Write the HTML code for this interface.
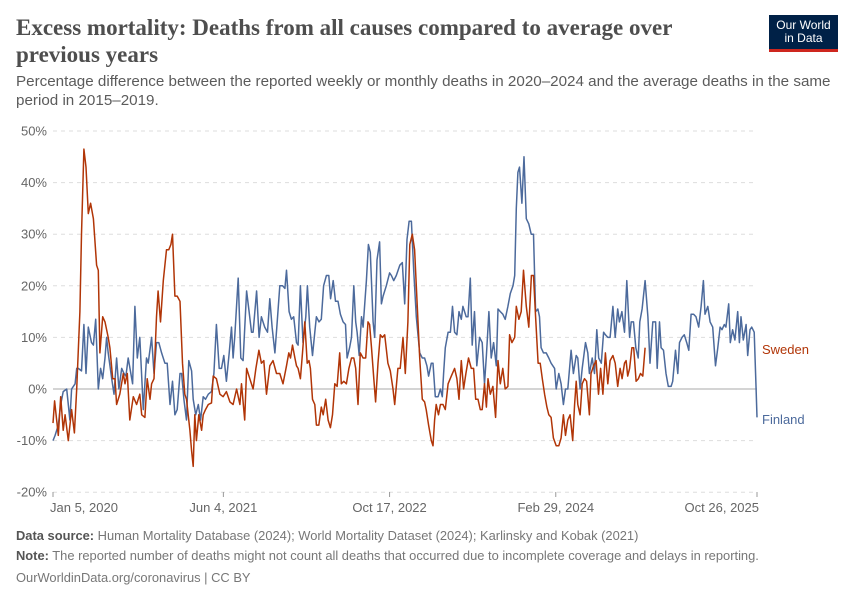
<!DOCTYPE html>
<html><head><meta charset="utf-8">
<style>
body{margin:0;background:#fff;font-family:"Liberation Sans",sans-serif;}
#wrap{position:relative;width:850px;height:600px;overflow:hidden;}
.title{position:absolute;left:16px;top:14px;width:720px;font-family:"Liberation Serif",serif;font-size:23px;line-height:27px;color:#4e4e4e;font-weight:bold;}
.sub{position:absolute;left:16px;top:72px;width:830px;font-size:15.2px;line-height:19px;color:#5b5b5b;}
.logo{position:absolute;left:769px;top:15px;width:69px;height:37px;background:#002147;color:#fff;font-size:12px;line-height:13px;text-align:center;}
.logo div{padding-top:4px}
.logo span{position:absolute;left:0;bottom:0;width:69px;height:3px;background:#ce261e}
.foot{position:absolute;left:16px;font-size:12.9px;color:#777;}
.foot b{color:#555;font-weight:bold}
</style></head><body>
<div id="wrap">
<div class="title">Excess mortality: Deaths from all causes compared to average over previous years</div>
<div class="logo"><div>Our World<br>in Data</div><span></span></div>
<div class="sub">Percentage difference between the reported weekly or monthly deaths in 2020–2024 and the average deaths in the same period in 2015–2019.</div>
<svg id="chart" width="850" height="600" style="position:absolute;left:0;top:0"></svg>
<div class="foot" style="top:528px"><b>Data source:</b> Human Mortality Database (2024); World Mortality Dataset (2024); Karlinsky and Kobak (2021)</div>
<div class="foot" style="top:548px"><b>Note:</b> The reported number of deaths might not count all deaths that occurred due to incomplete coverage and delays in reporting.</div>
<div class="foot" style="top:570px">OurWorldinData.org/coronavirus | CC BY</div>
</div>
<script>
const yTicks=[-20,-10,0,10,20,30,40,50];
const xTickWeeks=[0,73.4,145,216.6,303.3];
const xTickLabels=["Jan 5, 2020","Jun 4, 2021","Oct 17, 2022","Feb 29, 2024","Oct 26, 2025"];
const sweden=[[0,-6.6],[0.7,-2.3],[2.3,-9],[3.3,-1.5],[4.4,-8],[5.2,-5],[6.6,-10],[8,-4],[9.2,-8.5],[10.2,0],[11.6,15],[12.3,30],[13.3,46.5],[14.2,43],[15.2,34],[16.2,36],[17.4,33],[18.8,24],[19.5,23],[20.2,7],[21.4,14],[22.4,13],[23.8,10],[24.5,8],[25.7,2],[26.7,2],[27.4,-3],[28.8,-1],[30.3,3],[31,1],[32,3],[33.1,-6],[34.6,-1.5],[36,-3],[37.4,-1],[38.2,-5],[39.6,-5.5],[40.6,2],[41.8,-2],[42.5,1],[43.5,2],[44.6,14],[45.3,19],[46.3,13],[47.5,21],[48.9,27],[49.9,27],[50.8,28],[51.5,30],[52.5,18],[53.5,18],[54.7,17],[55.8,5],[56.8,-1],[57.5,-2],[59,-8],[59.7,-12],[60.4,-15],[61.1,-5],[61.8,-10],[62.8,-5],[64,-8],[64.7,-5],[65.7,-4],[66.9,-3],[68.3,-2.7],[69,2.5],[70.4,2],[71.9,-1],[73.3,-1.5],[74.7,-0.5],[76.2,-2.5],[77.6,-3],[79.1,0],[80.5,-3],[81.2,1],[82.6,-6],[83.4,4],[84.8,2],[86.2,0],[87.4,4],[88.7,7.5],[89.8,5],[90.8,5.5],[92,-1],[93.4,4.5],[94.8,5.5],[96.3,3],[97.7,3],[99.1,1],[100.6,4.5],[101.6,7],[102.3,6],[103.2,8.5],[104.2,6],[104.9,4.5],[105.6,4],[106.6,2],[107.5,7],[108.5,13],[109.5,5],[110.3,5.5],[110.9,4],[111.8,-2],[112.8,-3],[113.5,-7],[114.5,-7],[115.6,-3.5],[116.4,-5],[117.5,-2],[118.5,-6],[119.5,-7.5],[120.4,-5],[121.4,1],[122.4,0.5],[123.5,7],[124.2,1],[125.3,1.5],[126.4,1],[127.5,4],[128.6,6],[129.6,6],[130.4,4],[131.4,-3],[132.4,7],[133.6,6],[134.7,6],[135.7,13],[136.4,12.5],[137.2,8],[138.2,2],[139,-2.5],[140,5],[141,10.5],[141.9,10],[142.9,10.5],[144.3,5],[145.3,3.5],[146.5,0],[147.2,-3],[148.6,4],[149.6,4],[150.8,10],[151.8,3],[152.9,13],[153.7,28],[154.8,30],[155.8,27],[156.5,20],[158,6],[159.1,-2],[160.1,-2.5],[160.8,-4],[161.8,-7],[163,-10],[163.7,-11],[164.4,-6],[165.1,-3],[166.1,-5],[166.9,-3],[168,-3],[169,-4],[170.2,1],[171.6,2.5],[173,4],[174,2],[174.9,-2],[175.9,5.5],[176.9,0],[177.9,3],[179,6],[180.2,4],[181.2,4],[182.1,-2],[183.1,-2],[184.1,-4],[184.9,-4],[185.9,1],[186.7,-3.5],[187.4,2],[188.4,-1],[189.5,0.5],[190.7,-5.5],[191.7,5.5],[192.7,1],[193.8,4],[194.8,0],[196,0.5],[196.7,10.5],[197.7,9],[198.9,10],[199.6,16],[200.7,13.5],[201.7,15],[202.7,23],[203.9,16],[205,12],[206.1,22],[207,22],[207.9,14],[209,5],[209.9,5],[210.8,2],[211.8,-1],[212.8,-3.5],[213.6,-5],[214.6,-5.5],[215.6,-9.5],[216.8,-11],[217.9,-11],[218.9,-9.5],[219.9,-5],[220.8,-9],[221.8,-6],[222.8,-5],[223.9,-10],[224.7,-3],[225.4,1.5],[226.1,-3],[227.1,-5],[228,1],[229,2],[229.9,1.5],[231.1,-5],[231.8,3],[232.9,4.5],[234,5.5],[235,-1],[235.9,4],[236.9,-1],[238,7],[239,1],[240,5.5],[241.2,6.5],[242.2,5],[243.3,0.5],[244.3,4],[245.2,2],[246.2,5],[246.9,5.5],[247.6,2.5],[248.4,4],[249.4,8],[250.2,8],[251.2,1.5],[252.2,2],[253.1,3],[254.1,2.5],[255.1,8]];
const finland=[[0,-10],[0.9,-9],[2.3,-7],[3.3,-3],[4.4,-0.5],[5.9,0],[7.3,-6],[8,0],[9.5,1],[10.2,4],[10.9,4],[12.3,3.5],[13.3,12.5],[14.2,3],[15.2,12],[16.6,9],[17.4,8.5],[18.4,13.5],[19.5,0],[20.5,4],[21.4,2],[22.4,6],[23.1,10],[23.8,7],[25.3,2],[26.3,-1],[27.4,6],[28.4,0],[29.6,4],[30.6,3],[31.4,2.5],[32.4,6],[34.3,1],[35.3,16],[36.3,6],[37.4,10],[38.9,-4],[40.3,6],[41,5],[42.5,10],[43.5,3],[44.6,9],[45.6,9],[46.8,7],[48.2,5],[49.2,5],[50.4,-3],[51.5,1.5],[52.5,-5],[53.5,-4],[54.7,3],[55.4,3],[56.4,-2],[57.5,-6],[58.5,5.5],[59.7,3.5],[60.4,-2],[61.5,-5],[62.6,-3],[63.6,-6],[64.7,-1.5],[65.7,-2],[66.9,-1],[68.3,-0.5],[69.3,3],[70.4,12.5],[71.6,4],[72.6,4],[73.6,6.5],[74.7,1.5],[75.9,7],[76.9,12],[77.6,6],[78.3,10],[79.8,21.5],[80.9,6],[81.9,5.5],[83.4,19],[84.5,15],[85.5,11],[86.2,11],[87.7,19],[88.8,10],[89.8,14],[91.2,12],[92.4,11],[93.4,17.5],[94.4,12],[95.6,7],[96.6,13],[97.7,20],[98.9,20],[99.9,19.5],[100.6,23],[101.7,15],[102.7,13.5],[103.7,14],[104.9,9],[105.6,8.5],[106.6,20],[107.7,9],[108.9,14],[109.6,20],[110.6,12],[111.8,6.5],[112.8,11],[113.5,14],[114.6,13],[115.6,13.5],[116.6,20],[117.8,22],[118.8,22],[119.6,17.5],[120.7,21],[121.7,17],[122.8,17],[123.8,14.5],[125,13],[126,12.5],[126.7,6],[127.8,8],[128.6,10],[129.6,20],[130.4,13],[131,11],[131.9,6.5],[132.9,14],[133.6,12],[135,21],[135.9,28],[136.7,26.5],[137.9,13],[138.6,10],[139.6,25],[140.7,28.5],[141.5,16.5],[142.2,18],[143.6,20],[145,22.5],[145.8,22],[146.8,21],[147.9,22],[149.4,24],[150.5,24.5],[151.5,16.5],[152.5,29],[153.4,32.5],[154.4,32.5],[155.4,23],[156.5,14],[158,7],[159.1,6],[160.1,6],[161.1,4.5],[161.8,2.5],[163,5],[163.7,5],[164.7,-1.5],[165.9,-1.5],[166.9,0],[167.7,-1.5],[168.3,3],[169,8],[170.2,11],[171.2,11],[172.1,16],[173,11],[174,10.5],[174.9,15],[175.9,13.5],[176.6,16],[178,14],[178.8,14],[179.8,21.5],[180.6,8.5],[181.6,15],[182.6,4.5],[183.8,10],[184.9,9],[185.9,1],[186.7,6.5],[187.8,15],[188.8,6],[189.8,9],[191,4.5],[191.7,15.5],[192.7,15],[193.8,14.5],[194.8,13.5],[196,16],[197,18.5],[198.2,20],[198.9,22],[199.6,35],[200.3,42],[201,43],[202,36],[202.9,45],[203.9,33],[205,32],[206,30],[207,30],[207.9,15],[208.9,15.5],[209.6,14],[210.3,8],[211.3,7],[212.5,7],[213.6,6],[214.6,5],[216.1,4],[216.8,0],[217.9,3],[218.9,1],[219.9,-3],[220.8,0],[221.8,0],[223.2,7.5],[224.2,3],[225.4,6.5],[226.1,6],[227.1,0],[228,4],[229.4,9],[230.4,7],[231.1,3],[232.3,6],[233.3,3],[234.3,11.5],[235.1,6],[236.2,5],[237.2,11],[238,10.5],[239,10],[240,10],[241.2,16],[242.2,10],[243.3,15.5],[244,13],[245.1,15],[246.2,11],[247.2,21],[248.4,10],[249.1,13],[250.1,13],[251.1,8],[252.1,6],[252.8,13],[253.8,15.5],[255.1,21],[256.3,14],[257.2,5],[258.4,13],[259.6,13],[260.3,4],[261.3,13],[262,8],[263,7.5],[264.1,3],[265.1,0.5],[266.3,0.5],[267,1.5],[268.2,7.5],[269.2,3],[269.9,9],[271,10],[272,10.5],[273,9],[273.9,7.5],[274.9,14.5],[276,14.5],[277,14],[278.2,12],[279.2,16],[280.2,21],[280.9,14.5],[282.1,16],[283.1,13],[284.2,12],[285.4,4.5],[286.4,8],[287.4,12],[288.2,11.5],[289.2,12.5],[289.9,12],[291.1,16.5],[291.8,9],[292.8,11.5],[293.8,9.5],[295,15],[295.7,9],[296.4,14],[297.4,9.5],[298.6,12.5],[299.3,6.5],[300.3,11.5],[301,12],[302.1,11],[302.9,0],[303.3,-5.5]];

const NS='http://www.w3.org/2000/svg';
const svg=document.getElementById('chart');
const X0=53,X1=757,WMAX=303.3,Y0=389,PX10=51.6;
const xs=w=>X0+(X1-X0)*w/WMAX;
const ys=v=>Y0-v*PX10/10;
function mk(tag,attrs){const e=document.createElementNS(NS,tag);for(const k in attrs)e.setAttribute(k,attrs[k]);svg.appendChild(e);return e;}
yTicks.forEach(t=>{
  const g=mk('line',{x1:X0,x2:X1,y1:ys(t),y2:ys(t),stroke:t===0?'#aaa':'#ddd','stroke-width':1,'stroke-dasharray':t===0?'':'4,4'});
  
  
  const l=mk('text',{x:47,y:ys(t)+4.5,'text-anchor':'end','font-size':13,fill:'#666','font-family':'Liberation Sans, sans-serif'});
  l.textContent=t+'%';
  
  
});
xTickWeeks.forEach((w,i)=>{
  const x=xs(w);
  const tk=mk('line',{x1:x,x2:x,y1:492,y2:497,stroke:'#999'});
  
  
  const anchor=i===0?'start':(i===xTickWeeks.length-1?'end':'middle');
  const l=mk('text',{x:i===0?x-3:(i===xTickWeeks.length-1?x+2:x),y:512,'text-anchor':anchor,'font-size':13,fill:'#666','font-family':'Liberation Sans, sans-serif'});
  l.textContent=xTickLabels[i];
  
  
});
function line(data,color,name){
  const d=data.map((p,i)=>(i?'L':'M')+xs(p[0]).toFixed(1)+','+ys(p[1]).toFixed(1)).join('');
  const p=mk('path',{d:d,fill:'none',stroke:color,'stroke-width':1.5,'stroke-linejoin':'round'});
  
  
}
line(finland,'#4c6a9c','finland-line');
line(sweden,'#b13507','sweden-line');
const ls=mk('text',{x:762,y:354,'font-size':13,fill:'#b13507','font-family':'Liberation Sans, sans-serif'});
ls.textContent='Sweden';


const lf=mk('text',{x:762,y:424,'font-size':13,fill:'#4c6a9c','font-family':'Liberation Sans, sans-serif'});
lf.textContent='Finland';


</script>
</body></html>
